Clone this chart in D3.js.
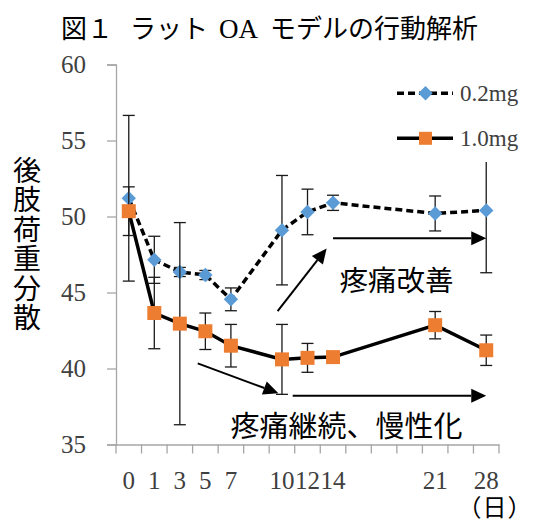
<!DOCTYPE html>
<html>
<head>
<meta charset="utf-8">
<script src="https://cdn.jsdelivr.net/npm/d3@7/dist/d3.min.js"></script>
<style>
  html, body { margin: 0; padding: 0; background: #fff; }
  svg { display: block; }
</style>
</head>
<body>
<svg id="chart" width="534" height="522"></svg>
<script>
// Category slots on the x axis (Excel-style line chart with blank slots)
const slotLabels = ["0","1","3","5","7","","10","12","14","","","","21","","28"];
const days = [0, 1, 3, 5, 7, 10, 12, 14, 21, 28];

// Hind-limb weight distribution (mean and error)
const dose02 = [51.2, 47.15, 46.35, 46.15, 44.55, 49.1, 50.3, 50.9, 50.2, 50.4];
const dose02Err = [5.45, 1.55, 0.3, 0.3, 0.75, 3.6, 1.5, 0.5, 1.15, 4.1];
const dose10 = [50.35, 43.65, 42.95, 42.45, 41.5, 40.6, 40.7, 40.75, 42.85, 41.2];
const dose10Err = [1.6, 2.35, 6.65, 1.2, 1.4, 2.3, 0.95, 0.2, 0.9, 1.0];

const yTicks = [35, 40, 45, 50, 55, 60];
const seriesNames = ["0.2mg", "1.0mg"];

const CJK = "'Noto Sans CJK JP', 'Noto Sans CJK SC', sans-serif";
const SERIF = "'Liberation Serif', 'DejaVu Serif', serif";

const svg = d3.select("#chart");

const x = d3.scaleBand()
  .domain(d3.range(slotLabels.length))
  .range([116, 499])
  .padding(0);
const y = d3.scaleLinear().domain([35, 60]).range([444.5, 64.5]);

const slotOf = d => slotLabels.indexOf(String(d));
const xc = d => x(slotOf(d)) + x.bandwidth() / 2;
// fractional slot position (used for annotation arrows)
const xs = s => x.range()[0] + s * x.step();

// Title
const title = svg.append("g").attr("fill", "#000");
title.append("text").attr("x", 61).attr("y", 38).attr("font-family", CJK).attr("font-size", 26).text("図１");
title.append("text").attr("x", 130).attr("y", 38).attr("font-family", CJK).attr("font-size", 26).text("ラット");
title.append("text").attr("x", 219).attr("y", 38).attr("font-family", SERIF).attr("font-size", 27).text("OA");
title.append("text").attr("x", 270).attr("y", 38).attr("font-family", CJK).attr("font-size", 26).text("モデルの行動解析");

// Y axis
const yAxis = svg.append("g")
  .attr("transform", `translate(${x.range()[0]},0)`)
  .call(d3.axisLeft(y).tickValues(yTicks).tickSize(9).tickPadding(21).tickFormat(d3.format("d")));
yAxis.select(".domain").attr("stroke", "#a6a6a6").attr("stroke-width", 1.3);
yAxis.selectAll(".tick line").attr("stroke", "#a6a6a6").attr("stroke-width", 1.3);
yAxis.selectAll(".tick text")
  .attr("font-family", SERIF).attr("font-size", 25).attr("fill", "#404040").attr("dy", "0.33em");

// X axis: labels at slot centres, tick marks at slot boundaries
const xAxis = svg.append("g")
  .attr("transform", `translate(0,${y.range()[0]})`)
  .call(d3.axisBottom(x).tickSize(0).tickPadding(27).tickFormat(i => slotLabels[i]));
xAxis.select(".domain").attr("stroke", "#a6a6a6").attr("stroke-width", 1.3);
xAxis.selectAll(".tick text")
  .attr("font-family", SERIF).attr("font-size", 25).attr("fill", "#404040").attr("dy", "0.71em");
xAxis.selectAll(".boundary")
  .data(d3.range(slotLabels.length + 1))
  .join("line")
  .attr("class", "boundary")
  .attr("x1", i => xs(i)).attr("x2", i => xs(i))
  .attr("y1", 0).attr("y2", 9)
  .attr("stroke", "#a6a6a6").attr("stroke-width", 1.3);

// Y axis title, set vertically
svg.append("text")
  .attr("x", 27)
  .attr("y", 156)
  .style("writing-mode", "vertical-rl")
  .style("text-orientation", "upright")
  .attr("letter-spacing", 1.5)
  .attr("font-family", CJK).attr("font-size", 28).attr("fill", "#000")
  .text("後肢荷重分散");

// Unit label
svg.append("text")
  .attr("x", 495).attr("y", 516)
  .attr("text-anchor", "middle")
  .attr("letter-spacing", 1)
  .attr("font-family", CJK).attr("font-size", 24).attr("fill", "#000")
  .text("（日）");

const diamond = "M0,-7.2L7.2,0L0,7.2L-7.2,0Z";

function drawSeries(vals, errs, opts) {
  const g = svg.append("g");
  const line = d3.line().x((v, i) => xc(days[i])).y(v => y(v));
  g.append("path")
    .datum(vals)
    .attr("d", line)
    .attr("fill", "none")
    .attr("stroke", "#000")
    .attr("stroke-width", 3.5)
    .attr("stroke-dasharray", opts.dash || null);
  const eb = g.append("g").attr("stroke", "#1a1a1a").attr("stroke-width", 1.3);
  vals.forEach((v, i) => {
    const cx = xc(days[i]);
    const y0 = y(v - errs[i]), y1 = y(v + errs[i]);
    eb.append("line").attr("x1", cx).attr("x2", cx).attr("y1", y0).attr("y2", y1);
    eb.append("line").attr("x1", cx - 6).attr("x2", cx + 6).attr("y1", y0).attr("y2", y0);
    eb.append("line").attr("x1", cx - 6).attr("x2", cx + 6).attr("y1", y1).attr("y2", y1);
  });
  return g;
}

function drawMarkers(g, vals, kind, color) {
  g.selectAll(".m")
    .data(vals)
    .join("path")
    .attr("class", "m")
    .attr("transform", (v, i) => `translate(${xc(days[i])},${y(v)})`)
    .attr("d", kind === "diamond" ? diamond : "M-7,-7H7V7H-7Z")
    .attr("fill", color);
}

const g02 = drawSeries(dose02, dose02Err, { dash: "7,4" });
const g10 = drawSeries(dose10, dose10Err, {});
drawMarkers(g02, dose02, "diamond", "#5b9bd5");
drawMarkers(g10, dose10, "square", "#ed7d31");

// Legend (white box sits over the plot)
const lg = svg.append("g");
lg.append("rect").attr("x", 388).attr("y", 72).attr("width", 146).attr("height", 90).attr("fill", "#fff");
const legendItems = [
  { name: seriesNames[0], dash: "7,4", kind: "diamond", color: "#5b9bd5", ly: 93.3 },
  { name: seriesNames[1], dash: null, kind: "square", color: "#ed7d31", ly: 138.3 }
];
legendItems.forEach(it => {
  lg.append("line").attr("x1", 397).attr("x2", 453).attr("y1", it.ly).attr("y2", it.ly)
    .attr("stroke", "#000").attr("stroke-width", 3.5).attr("stroke-dasharray", it.dash);
  lg.append("path").attr("transform", `translate(425.5,${it.ly})`)
    .attr("d", it.kind === "diamond" ? diamond : "M-6.5,-6.5H6.5V6.5H-6.5Z")
    .attr("fill", it.color);
  lg.append("text").attr("x", 460).attr("y", it.ly + 7.5)
    .attr("font-family", SERIF).attr("font-size", 23).attr("fill", "#404040")
    .text(it.name);
});

// Annotation arrows, given as [slot position, value]
const arrows = [
  { from: [6.33, 43.78], to: [8.25, 47.9] },
  { from: [8.5, 48.57], to: [14.5, 48.57] },
  { from: [3.2, 40.34], to: [6.36, 38.37] },
  { from: [6.92, 38.21], to: [14.5, 38.21] }
];
const ag = svg.append("g");
arrows.forEach(a => {
  const x1 = xs(a.from[0]), y1 = y(a.from[1]);
  const x2 = xs(a.to[0]), y2 = y(a.to[1]);
  const ang = Math.atan2(y2 - y1, x2 - x1);
  const len = 15, half = 7;
  const bx = x2 - len * Math.cos(ang), by = y2 - len * Math.sin(ang);
  ag.append("line").attr("x1", x1).attr("y1", y1).attr("x2", bx).attr("y2", by)
    .attr("stroke", "#000").attr("stroke-width", 2);
  const px = -Math.sin(ang) * half, py = Math.cos(ang) * half;
  ag.append("path")
    .attr("d", `M${x2},${y2}L${bx + px},${by + py}L${bx - px},${by - py}Z`)
    .attr("fill", "#000");
});

// Annotation texts
svg.append("text").attr("x", 339.5).attr("y", 290.8)
  .attr("font-family", CJK).attr("font-size", 28.5).attr("fill", "#000")
  .text("疼痛改善");
svg.append("text").attr("x", 230.5).attr("y", 436.8)
  .attr("font-family", CJK).attr("font-size", 29).attr("fill", "#000")
  .text("疼痛継続、慢性化");
</script>
</body>
</html>
